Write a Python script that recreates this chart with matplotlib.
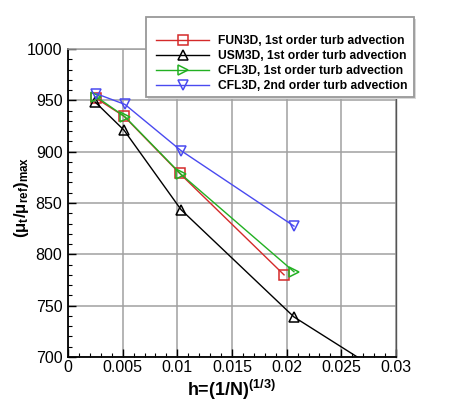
import matplotlib
matplotlib.use("Agg")
import matplotlib.pyplot as plt
from matplotlib.ticker import MultipleLocator, FormatStrFormatter
from matplotlib.patches import Rectangle

plt.rcParams['font.family'] = ['Liberation Sans', 'DejaVu Sans']
plt.rcParams['mathtext.fontset'] = 'custom'
plt.rcParams['mathtext.rm'] = 'Liberation Sans:bold'
plt.rcParams['mathtext.it'] = 'Liberation Sans:bold'
plt.rcParams['mathtext.bf'] = 'Liberation Sans:bold'

# data
fun3d_h = [0.00257, 0.00512, 0.0102, 0.01976]
fun3d_v = [952, 934.5, 879, 780]
usm3d_h = [0.00247, 0.00512, 0.01034, 0.02067, 0.0413]
usm3d_v = [948.5, 921, 843.5, 739, 600]
cfl1_h = [0.00258, 0.00521, 0.01034, 0.02067]
cfl1_v = [953.5, 934, 878, 783]
cfl2_h = [0.00258, 0.00521, 0.01034, 0.02067]
cfl2_v = [956.5, 946, 901, 827.5]
labels = ["FUN3D, 1st order turb advection",
          "USM3D, 1st order turb advection",
          "CFL3D, 1st order turb advection",
          "CFL3D, 2nd order turb advection"]

W, H = 450, 401
fig = plt.figure(figsize=(W/100, H/100), dpi=100)
ax = fig.add_axes([68/W, 1-357/H, (396-68)/W, (357-49)/H])

ms = 7.5
ax.plot(fun3d_h, fun3d_v, color='#d42a2a', lw=1.0, marker='s', ms=7, mfc='none', mew=1.1, label=labels[0], zorder=3)
ax.plot(usm3d_h, usm3d_v, color='black', lw=1.0, marker='^', ms=ms, mfc='none', mew=1.1, label=labels[1], zorder=3)
ax.plot(cfl1_h, cfl1_v, color='#22b022', lw=1.0, marker='>', ms=ms, mfc='none', mew=1.1, label=labels[2], zorder=3)
ax.plot(cfl2_h, cfl2_v, color='#4a4af0', lw=1.0, marker='v', ms=ms, mfc='none', mew=1.1, label=labels[3], zorder=3)

ax.set_xlim(0, 0.03)
ax.set_ylim(700, 1000)
ax.xaxis.set_major_locator(MultipleLocator(0.005))
ax.xaxis.set_minor_locator(MultipleLocator(0.001))
ax.yaxis.set_major_locator(MultipleLocator(50))
ax.yaxis.set_minor_locator(MultipleLocator(10))
ax.xaxis.set_major_formatter(FormatStrFormatter('%g'))
ax.tick_params(which='both', direction='in', top=False, right=False, labelsize=11.5, colors='black')
ax.tick_params(which='major', length=6, width=1.0)
ax.tick_params(axis='x', which='major', pad=2)
ax.tick_params(axis='y', which='major', pad=4)
ax.tick_params(which='minor', length=3, width=0.8)
ax.grid(True, which='major', color='#a0a0a0', lw=1.1, zorder=0)
for s in ['left', 'bottom']:
    ax.spines[s].set_linewidth(1.3)
    ax.spines[s].set_color('black')
ax.spines['right'].set_color('#555555')
ax.spines['right'].set_linewidth(1.0)
ax.spines['top'].set_color('#a0a0a0')
ax.spines['top'].set_linewidth(1.1)

ax.set_xlabel(r'h=(1/N)$^{(1/3)}$', fontsize=13, fontweight='bold', labelpad=2)
ax.set_ylabel(r'(μ$_{t}$/μ$_{ref}$)$_{max}$', fontsize=12, fontweight='bold')
ax.yaxis.set_label_coords(-0.113, 0.52)

# legend frame (with light shadow)
fig.patches.append(Rectangle((148/W, 1-99/H), (414-146)/W, (97-17)/H, transform=fig.transFigure,
                             facecolor='#d8d8d8', edgecolor='none', zorder=2))
fig.patches.append(Rectangle((146/W, 1-97/H), (414-146)/W, (97-17)/H, transform=fig.transFigure,
                             facecolor='white', edgecolor='#999999', lw=1.3, zorder=2.1))

leg = fig.legend(loc='upper left', bbox_to_anchor=(156/W, 1-35/H), prop={'weight': 'bold', 'size': 8.7},
                 handlelength=4.39, handletextpad=0.75, labelspacing=0.244, borderpad=0,
                 frameon=False, borderaxespad=0)
leg.set_zorder(3)

fig.savefig('out.png', dpi=100)
